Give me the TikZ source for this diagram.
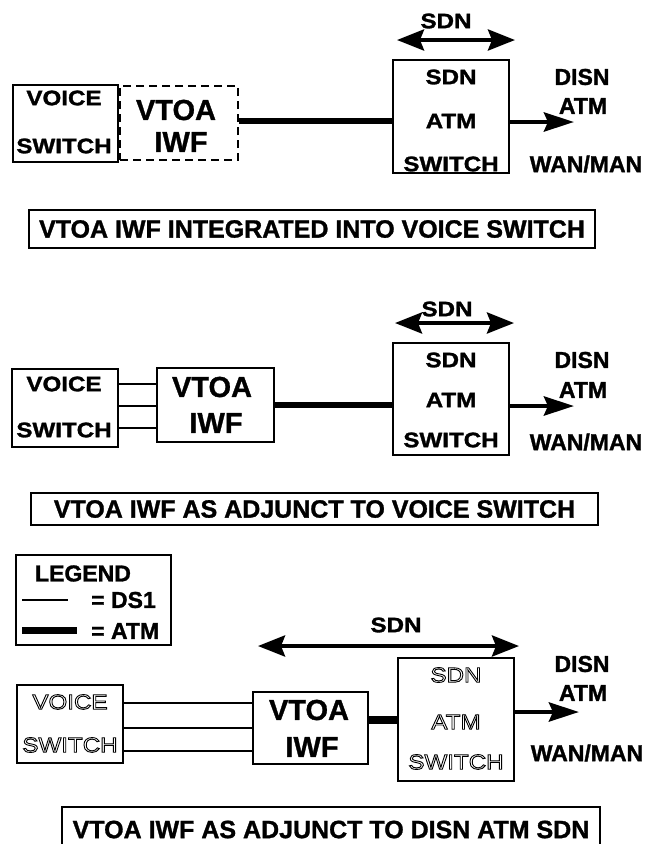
\documentclass[tikz,border=0pt]{standalone}
\usepackage{fontspec}
\setmainfont{Liberation Sans}
\newfontfamily\wfont{Liberation Sans}[FakeStretch=1.15]
\usetikzlibrary{arrows.meta}
\newcommand\hollowtext[1]{\special{pdf:literal direct 1 Tr 0.9 w}#1\special{pdf:literal direct 0 Tr}}
\begin{document}
\begin{tikzpicture}[x=1pt,y=-1pt,
  heavy/.style={execute at begin node={\special{pdf:literal direct 2 Tr 0.3 w}},
                execute at end node={\special{pdf:literal direct 0 Tr}}},
  box/.style={draw, line width=2pt, inner sep=0pt},
  dbox/.style={draw, line width=2.5pt, dash pattern=on 8pt off 5pt, inner sep=0pt},
  lbl/.style={heavy, font=\wfont\bfseries\fontsize{21}{21}\selectfont, inner sep=0pt},
  hlbl/.style={font=\wfont\fontsize{21}{21}\selectfont, inner sep=0pt},
  big/.style={heavy, font=\bfseries\fontsize{29}{29}\selectfont, inner sep=0pt},
  side/.style={heavy, font=\bfseries\fontsize{23}{23}\selectfont, inner sep=0pt},
  capbox/.style={heavy, draw, line width=2pt, inner sep=0pt, font=\bfseries\fontsize{25}{25}\selectfont},
  atm/.style={line width=6pt},
  ds1/.style={line width=1.2pt},
  dbl/.style={line width=4pt, {Stealth[length=27pt,width=21pt,inset=4pt]}-{Stealth[length=27pt,width=21pt,inset=4pt]}},
  outarr/.style={line width=4.5pt, -{Stealth[length=30pt,width=19pt,inset=4pt]}}
]
\useasboundingbox (0,0) rectangle (648,844);
\fill[white] (0,0) rectangle (648,844);

% ---------------- panel 1 ----------------
\node[box, minimum width=105pt, minimum height=77pt] (vs1) at (65.5,123.5) {};
\node[lbl] (vs1a) at (64,98) {VOICE};
\node[lbl] (vs1b) at (64,146) {SWITCH};
\node[dbox, minimum width=118pt, minimum height=74pt] (iwf1) at (179,123) {};
\node[big] (iwf1a) at (176,110) {VTOA};
\node[big] (iwf1b) at (181,142) {IWF};
\node[box, minimum width=116pt, minimum height=113pt] (sdn1) at (451,116.5) {};
\node[lbl] (sdn1a) at (451,77) {SDN};
\node[lbl] (sdn1b) at (451,121) {ATM};
\node[lbl] (sdn1c) at (451,164) {SWITCH};
\coordinate (l1) at (0,121);
\draw[atm] (iwf1.east |- l1) -- (sdn1.west |- l1);
\coordinate (o1) at (574,122);
\draw[outarr] (sdn1.east |- o1) -- (o1);
\node[lbl] (sdnl1) at (446,21) {SDN};
\coordinate (d1l) at (397,40);
\coordinate (d1r) at (515,40);
\draw[dbl] (d1l) -- (d1r);
\node[side] (dis1) at (582,77) {DISN};
\node[side] (atm1) at (583,106) {ATM};
\node[side] (wan1) at (586,164) {WAN/MAN};
\node[capbox, minimum width=566pt, minimum height=38pt] (cap1) at (312,229) {VTOA IWF INTEGRATED INTO VOICE SWITCH};

% ---------------- panel 2 ----------------
\node[box, minimum width=106pt, minimum height=78pt] (vs2) at (65,408) {};
\node[lbl] (vs2a) at (64,384) {VOICE};
\node[lbl] (vs2b) at (64,430) {SWITCH};
\node[box, minimum width=117pt, minimum height=74pt] (iwf2) at (215.5,405) {};
\node[big] (iwf2a) at (212,387) {VTOA};
\node[big] (iwf2b) at (216,423) {IWF};
\coordinate (t2a) at (0,384);
\coordinate (t2b) at (0,406);
\coordinate (t2c) at (0,428);
\draw[ds1] (vs2.east |- t2a) -- (iwf2.west |- t2a);
\draw[ds1] (vs2.east |- t2b) -- (iwf2.west |- t2b);
\draw[ds1] (vs2.east |- t2c) -- (iwf2.west |- t2c);
\node[box, minimum width=116pt, minimum height=112pt] (sdn2) at (451,399) {};
\node[lbl] (sdn2a) at (451,360) {SDN};
\node[lbl] (sdn2b) at (451,400) {ATM};
\node[lbl] (sdn2c) at (451,440) {SWITCH};
\coordinate (l2) at (0,405);
\draw[atm] (iwf2.east |- l2) -- (sdn2.west |- l2);
\coordinate (o2) at (574,406);
\draw[outarr] (sdn2.east |- o2) -- (o2);
\node[lbl] (sdnl2) at (447,309) {SDN};
\coordinate (d2l) at (395,323);
\coordinate (d2r) at (514,323);
\draw[dbl] (d2l) -- (d2r);
\node[side] (dis2) at (582,360) {DISN};
\node[side] (atm2) at (583,390) {ATM};
\node[side] (wan2) at (586,442) {WAN/MAN};
\node[capbox, minimum width=567pt, minimum height=32pt] (cap2) at (314.5,509) {VTOA IWF AS ADJUNCT TO VOICE SWITCH};

% ---------------- panel 3 ----------------
\node[box, minimum width=155pt, minimum height=90pt] (leg) at (93.5,600) {};
\node[side] (legt) at (83,573.5) {LEGEND};
\coordinate (ds1a) at (22,600);
\coordinate (ds1b) at (68,600);
\draw[ds1] (ds1a) -- (ds1b);
\node[side, anchor=west] (ds1t) at (91,600) {= DS1};
\coordinate (atma) at (22,630);
\coordinate (atmb) at (77,630);
\draw[line width=7pt] (atma) -- (atmb);
\node[side, anchor=west] (atmt) at (91,631) {= ATM};

\node[box, minimum width=106pt, minimum height=78pt] (vs3) at (70,724) {};
\node[hlbl] (vs3a) at (70,702) {\hollowtext{VOICE}};
\node[hlbl] (vs3b) at (70,745) {\hollowtext{SWITCH}};
\node[box, minimum width=115pt, minimum height=72pt] (iwf3) at (310.5,728) {};
\node[big] (iwf3a) at (309,710) {VTOA};
\node[big] (iwf3b) at (312,747) {IWF};
\coordinate (t3a) at (0,703);
\coordinate (t3b) at (0,728);
\coordinate (t3c) at (0,751);
\draw[ds1] (vs3.east |- t3a) -- (iwf3.west |- t3a);
\draw[ds1] (vs3.east |- t3b) -- (iwf3.west |- t3b);
\draw[ds1] (vs3.east |- t3c) -- (iwf3.west |- t3c);
\node[box, minimum width=116pt, minimum height=123pt] (sdn3) at (456,719.5) {};
\node[hlbl] (sdn3a) at (456,675) {\hollowtext{SDN}};
\node[hlbl] (sdn3b) at (456,722) {\hollowtext{ATM}};
\node[hlbl] (sdn3c) at (456,762) {\hollowtext{SWITCH}};
\coordinate (l3) at (0,720);
\draw[line width=8pt] (iwf3.east |- l3) -- (sdn3.west |- l3);
\coordinate (o3) at (579,712);
\draw[outarr] (sdn3.east |- o3) -- (o3);
\node[lbl] (sdnl3) at (396,625) {SDN};
\coordinate (d3l) at (258,646);
\coordinate (d3r) at (519,646);
\draw[dbl] (d3l) -- (d3r);
\node[side] (dis3) at (582,664) {DISN};
\node[side] (atm3) at (583,693) {ATM};
\node[side] (wan3) at (587,753) {WAN/MAN};
\node[capbox, minimum width=538pt, minimum height=45pt] (cap3) at (331,829.5) {VTOA IWF AS ADJUNCT TO DISN ATM SDN};
\end{tikzpicture}
\end{document}
